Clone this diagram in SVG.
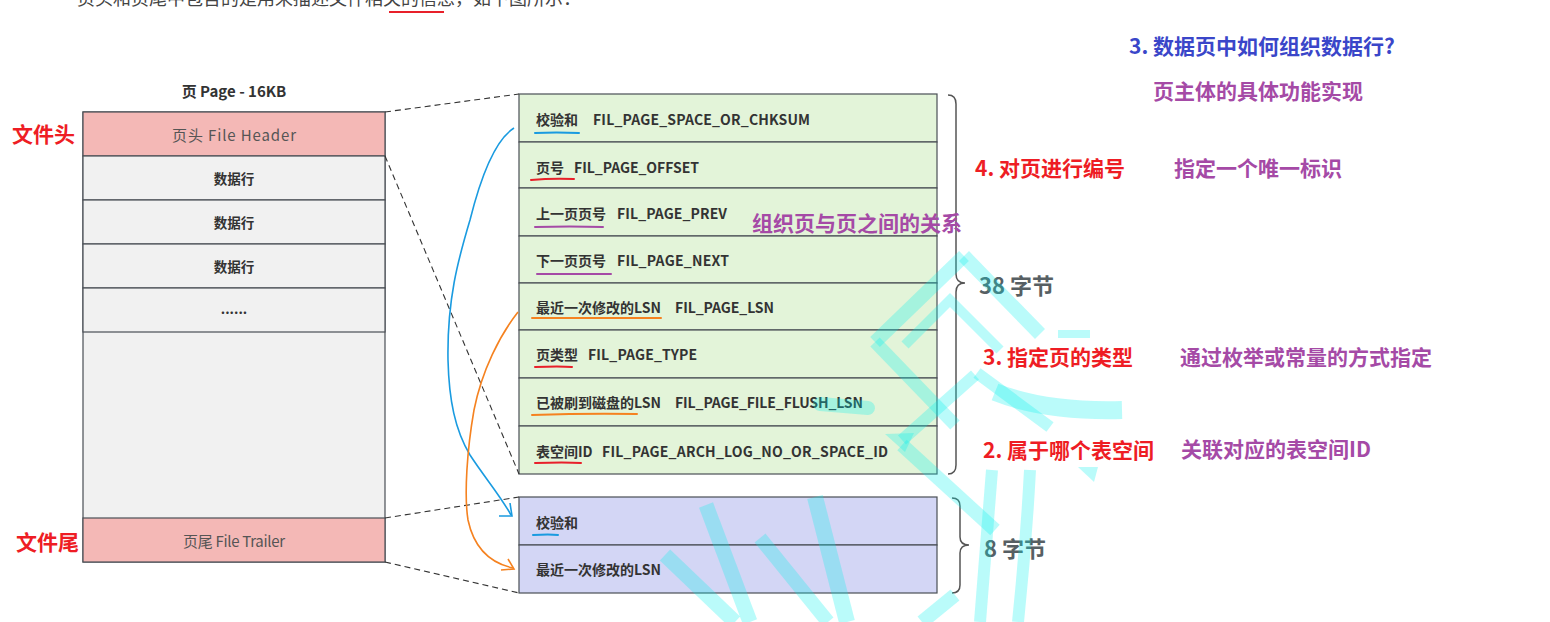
<svg xmlns="http://www.w3.org/2000/svg" width="1550" height="622" viewBox="0 0 1550 622">
<style>
text{font-family:"Noto Sans CJK SC","Noto Sans",sans-serif;dominant-baseline:central}
.box{stroke:#4a4f55;stroke-width:1.2}
.hdr{fill:#f4b8b6}
.gray{fill:#f1f1f1}
.green{fill:#e3f4d9}
.purp{fill:#d3d6f5}
.row{font-size:14px;font-weight:bold;fill:#333}
.cell{font-size:13.5px;font-weight:bold;fill:#333;text-anchor:middle}
.cellr{font-size:15px;fill:#555;text-anchor:middle}
.red{font-size:21px;font-weight:bold;fill:#ee1d24}
.pl{font-size:21px;font-weight:bold;fill:#a54aa6}
.bl{font-size:21px;font-weight:bold;fill:#3a46c9}
.byte{font-size:22px;font-weight:bold;fill:#575f63}
.dash{fill:none;stroke:#333;stroke-width:1.1;stroke-dasharray:6 4}
.brace{fill:none;stroke:#555;stroke-width:1.5}
.ul{stroke-width:2;fill:none;stroke-linecap:round}
.wm{fill:none;stroke:#00f0ec;stroke-opacity:0.27}
.wmf{fill:#00f0ec;fill-opacity:0.27}
</style>

<!-- cut-off top line -->
<text x="77" y="-3" style="font-size:18px;fill:#444">页头和页尾中包含的是用来描述文件相关的信息，如下图所示：</text>
<line x1="389" y1="12" x2="444" y2="12" stroke="#e8202a" stroke-width="2"/>

<!-- title -->
<text x="234" y="90" style="font-size:15px;font-weight:bold;fill:#333;text-anchor:middle">页 Page - 16KB</text>

<!-- left page -->
<g id="page">
<rect class="box gray" x="83" y="112" width="302" height="450"/>
</g>
<g id="file-header">
<rect class="box hdr" x="83" y="112" width="302" height="44"/>
<text class="cellr" x="234" y="134" textLength="124">页头 File Header</text>
</g>
<g id="row1"><rect class="box gray" x="83" y="156" width="302" height="44"/><text class="cell" x="234" y="178">数据行</text></g>
<g id="row2"><rect class="box gray" x="83" y="200" width="302" height="44"/><text class="cell" x="234" y="222">数据行</text></g>
<g id="row3"><rect class="box gray" x="83" y="244" width="302" height="44"/><text class="cell" x="234" y="266">数据行</text></g>
<g id="row4"><rect class="box gray" x="83" y="288" width="302" height="44"/><text class="cell" x="234" y="308">......</text></g>
<g id="file-trailer">
<rect class="box hdr" x="83" y="518" width="302" height="44"/>
<text class="cellr" x="234" y="540" textLength="102">页尾 File Trailer</text>
</g>
<text class="red" x="12" y="133">文件头</text>
<text class="red" x="16" y="541">文件尾</text>

<!-- header detail -->
<g id="h1"><rect class="box green" x="519" y="94" width="418" height="48"/><text class="row" x="536" y="119">校验和</text><text class="row" x="593" y="119" textLength="217">FIL_PAGE_SPACE_OR_CHKSUM</text></g>
<g id="h2"><rect class="box green" x="519" y="142" width="418" height="46"/><text class="row" x="536" y="167">页号</text><text class="row" x="574" y="167" textLength="125">FIL_PAGE_OFFSET</text></g>
<g id="h3"><rect class="box green" x="519" y="188" width="418" height="48"/><text class="row" x="536" y="213">上一页页号</text><text class="row" x="617" y="213" textLength="110">FIL_PAGE_PREV</text></g>
<g id="h4"><rect class="box green" x="519" y="236" width="418" height="47"/><text class="row" x="536" y="260">下一页页号</text><text class="row" x="617" y="260" textLength="112">FIL_PAGE_NEXT</text></g>
<g id="h5"><rect class="box green" x="519" y="283" width="418" height="47"/><text class="row" x="536" y="307">最近一次修改的LSN</text><text class="row" x="675" y="307" textLength="99">FIL_PAGE_LSN</text></g>
<g id="h6"><rect class="box green" x="519" y="330" width="418" height="48"/><text class="row" x="536" y="354">页类型</text><text class="row" x="588" y="354" textLength="109">FIL_PAGE_TYPE</text></g>
<g id="h7"><rect class="box green" x="519" y="378" width="418" height="48"/><text class="row" x="536" y="402">已被刷到磁盘的LSN</text><text class="row" x="675" y="402" textLength="188">FIL_PAGE_FILE_FLUSH_LSN</text></g>
<g id="h8"><rect class="box green" x="519" y="426" width="418" height="48"/><text class="row" x="536" y="451">表空间ID</text><text class="row" x="602" y="451" textLength="286">FIL_PAGE_ARCH_LOG_NO_OR_SPACE_ID</text></g>

<!-- trailer detail -->
<g id="t1"><rect class="box purp" x="519" y="497" width="418" height="48"/><text class="row" x="536" y="522">校验和</text></g>
<g id="t2"><rect class="box purp" x="519" y="545" width="418" height="48"/><text class="row" x="536" y="569">最近一次修改的LSN</text></g>

<!-- underlines -->
<g id="underlines">
<path class="ul" stroke="#1a9be0" d="M535,133 Q556,132 579,133"/>
<path class="ul" stroke="#e8202a" d="M531,180 Q552,178 574,179"/>
<path class="ul" stroke="#a54aa6" d="M535,227 Q570,226 603,227"/>
<path class="ul" stroke="#a54aa6" d="M537,274 Q572,274 611,274"/>
<path class="ul" stroke="#f58220" d="M532,318 Q590,318 661,318"/>
<path class="ul" stroke="#e8202a" d="M535,367 Q560,366 572,367"/>
<path class="ul" stroke="#f58220" d="M532,415 Q590,413 637,414"/>
<path class="ul" stroke="#e8202a" d="M535,463 Q565,462 581,463"/>
<path class="ul" stroke="#1a9be0" d="M533,535 Q550,534 558,535"/>
</g>

<!-- connectors -->
<g id="connectors">
<line class="dash" x1="385" y1="112" x2="519" y2="94"/>
<line class="dash" x1="385" y1="156" x2="519" y2="474"/>
<line class="dash" x1="385" y1="518" x2="519" y2="497"/>
<line class="dash" x1="385" y1="562" x2="519" y2="593"/>
<path fill="none" stroke="#1a9be0" stroke-width="1.6" d="M514,128 C495,140 480,180 470,220 C458,260 447,300 448,360 C449,400 455,430 470,455 C485,478 500,495 511,515"/>
<path fill="none" stroke="#1a9be0" stroke-width="1.6" d="M499,516 L512,516 L510,503"/>
<path fill="none" stroke="#f58220" stroke-width="1.6" d="M518,312 C500,335 482,370 474,410 C467,450 464,495 468,520 C474,548 490,563 513,568"/>
<path fill="none" stroke="#f58220" stroke-width="1.6" d="M501,570 L514,569 L508,559"/>
</g>

<!-- braces -->
<g id="brace38">
<path class="brace" d="M948,95 Q956,95 956,104 L956,274 Q956,283 965,283 Q956,283 956,292 L956,465 Q956,474 948,474"/>
<text class="byte" x="979" y="284">38 字节</text>
</g>
<g id="brace8">
<path class="brace" d="M952,498 Q960,498 960,506 L960,537 Q960,545 969,545 Q960,545 960,553 L960,585 Q960,593 952,593"/>
<text class="byte" x="984" y="547">8 字节</text>
</g>

<!-- annotations -->
<g id="annotations">
<text class="bl" x="1129" y="45">3. 数据页中如何组织数据行?</text>
<text class="pl" x="1153" y="90">页主体的具体功能实现</text>
<text class="red" x="975" y="167">4. 对页进行编号</text>
<text class="pl" x="1174" y="167">指定一个唯一标识</text>
<text class="pl" x="752" y="222">组织页与页之间的关系</text>
<text class="red" x="983" y="356">3. 指定页的类型</text>
<text class="pl" x="1180" y="356">通过枚举或常量的方式指定</text>
<text class="red" x="983" y="449">2. 属于哪个表空间</text>
<text class="pl" x="1181" y="448">关联对应的表空间ID</text>
</g>

<!-- watermark (on top) -->
<g id="watermark">
<path class="wm" stroke-width="14" d="M875,342 L964,256"/>
<path class="wm" stroke-width="14" d="M964,256 L1040,334"/>
<path class="wm" stroke-width="13" d="M875,342 L955,425"/>
<path class="wm" stroke-width="10" d="M905,345 L950,300 L1000,350"/>
<path class="wm" stroke-width="8" d="M1058,334 L1090,334"/>
<path class="wm" stroke-width="12" d="M977,373 L1050,427"/>
<path class="wm" stroke-width="18" d="M995,392 Q1045,412 1122,410"/>
<path class="wm" stroke-width="12" d="M975,375 L902,440"/>
<polygon class="wmf" points="885,434 914,433 905,452"/>
<path class="wm" stroke-width="14" stroke-linecap="round" d="M820,404 L868,408"/>
<path class="wm" stroke-width="14" d="M902,445 L995,530"/>
<path class="wm" stroke-width="12" d="M992,470 Q986,545 980,622"/>
<path class="wm" stroke-width="12" d="M1030,470 Q1026,545 1018,622"/>
<polygon class="wmf" points="1078,467 1098,467 1094,482"/>
<path class="wm" stroke-width="15" d="M706,505 L750,622"/>
<path class="wm" stroke-width="15" d="M665,555 L735,622"/>
<path class="wm" stroke-width="16" d="M815,497 L847,622"/>
<path class="wm" stroke-width="14" d="M760,538 L828,622"/>
<path class="wm" stroke-width="14" d="M922,622 L955,595"/>
</g>
</svg>
